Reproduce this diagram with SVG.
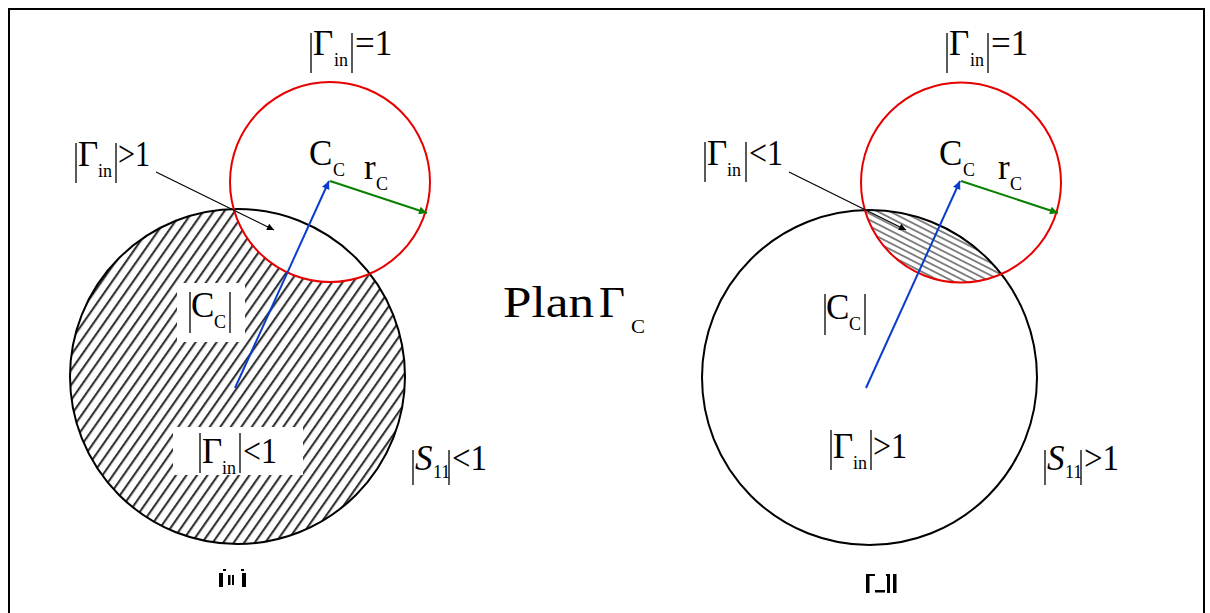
<svg xmlns="http://www.w3.org/2000/svg" width="1210" height="613" viewBox="0 0 1210 613">
<style>
.t{font-family:"Liberation Serif","Times New Roman",serif;fill:#000}
.big{font-size:35px}
.sub{font-size:18px}
.it{font-style:italic}
.bar{stroke:#000;stroke-width:1.3}
.cb{fill:none;stroke:#000;stroke-width:2}
.cr{fill:none;stroke:#e60000;stroke-width:2}
.ptr{stroke:#000;stroke-width:1.2;fill:none}
.blue{stroke:#0a3ccf;stroke-width:2;fill:none}
.green{stroke:#0a8000;stroke-width:2;fill:none}
</style>
<defs>
<pattern id="hatchL" patternUnits="userSpaceOnUse" width="40" height="8.6" patternTransform="rotate(-55)">
<line x1="0" y1="4" x2="40" y2="4" stroke="#333" stroke-width="2.1"/>
</pattern>
<pattern id="hatchR" patternUnits="userSpaceOnUse" width="40" height="5.6" patternTransform="rotate(27)">
<line x1="0" y1="2.8" x2="40" y2="2.8" stroke="#000" stroke-width="1.1"/>
</pattern>
<mask id="mL" maskUnits="userSpaceOnUse" x="0" y="0" width="1210" height="613">
<circle cx="237.5" cy="376.5" r="167.5" fill="#fff"/>
<circle cx="330" cy="182" r="100" fill="#000"/>
</mask>
<clipPath id="cR1"><circle cx="869.5" cy="377.5" r="167.5"/></clipPath>
<clipPath id="cR2"><circle cx="961" cy="182.5" r="100"/></clipPath>
<marker id="aBlue" viewBox="0 0 10 10" refX="10" refY="5" markerWidth="13" markerHeight="8" markerUnits="userSpaceOnUse" orient="auto"><path d="M0,0 L10,5 L0,10 z" fill="#0a3ccf"/></marker>
<marker id="aGreen" viewBox="0 0 10 10" refX="10" refY="5" markerWidth="15" markerHeight="8" markerUnits="userSpaceOnUse" orient="auto"><path d="M0,0 L10,5 L0,10 z" fill="#0a8000"/></marker>
<marker id="aBlack" viewBox="0 0 10 10" refX="10" refY="5" markerWidth="12" markerHeight="7" markerUnits="userSpaceOnUse" orient="auto"><path d="M0,0 L10,5 L0,10 z" fill="#000"/></marker>
</defs>

<rect x="0" y="0" width="1210" height="613" fill="#fff"/>
<rect id="frame" x="9" y="9" width="1195" height="640" fill="none" stroke="#000" stroke-width="2"/>

<!-- Left figure -->
<g id="left-hatch">
<rect x="60" y="200" width="360" height="360" fill="url(#hatchL)" mask="url(#mL)"/>
<rect x="177" y="283" width="68" height="59" fill="#fff"/>
<rect x="173" y="427" width="130" height="48" fill="#fff"/>
</g>
<g id="left-S-circle"><circle class="cb" cx="237.5" cy="376.5" r="167.5"/></g>
<g id="left-G-circle"><circle class="cr" cx="330" cy="182" r="100"/></g>

<!-- Right figure -->
<g id="right-hatch" clip-path="url(#cR1)">
<rect x="850" y="190" width="220" height="110" fill="url(#hatchR)" clip-path="url(#cR2)"/>
</g>
<g id="right-S-circle"><circle class="cb" cx="869.5" cy="377.5" r="167.5"/></g>
<g id="right-G-circle"><circle class="cr" cx="961" cy="182.5" r="100"/></g>

<g id="connectors">
<line class="blue" x1="235" y1="388" x2="329" y2="181" marker-end="url(#aBlue)"/>
<line class="green" x1="330" y1="181" x2="427" y2="213" marker-end="url(#aGreen)"/>
<line class="ptr" x1="156" y1="172" x2="274" y2="230" marker-end="url(#aBlack)"/>
<line class="blue" x1="866" y1="388" x2="960" y2="181" marker-end="url(#aBlue)"/>
<line class="green" x1="961" y1="181" x2="1058" y2="213" marker-end="url(#aGreen)"/>
<line class="ptr" x1="789" y1="172" x2="906" y2="230" marker-end="url(#aBlack)"/>
</g>

<!-- Labels left -->
<g id="lbl-left-Gin-eq1">
<line class="bar" x1="311" y1="33" x2="311" y2="73"/>
<text class="t big" x="313" y="55">Γ</text>
<text class="t sub" x="334" y="66">in</text>
<line class="bar" x1="352" y1="33" x2="352" y2="73"/>
<text class="t big" x="355" y="55">=1</text>
</g>
<g id="lbl-left-Gin-gt1">
<line class="bar" x1="76" y1="143" x2="76" y2="183"/>
<text class="t big" x="78" y="166">Γ</text>
<text class="t sub" x="98" y="177">in</text>
<line class="bar" x1="116" y1="143" x2="116" y2="183"/>
<text class="t big" x="118" y="166" textLength="32" lengthAdjust="spacingAndGlyphs">&gt;1</text>
</g>
<g id="lbl-left-Cc">
<text class="t big" x="309" y="165">C</text>
<text class="t sub" x="333" y="176">C</text>
</g>
<g id="lbl-left-rc">
<text class="t big" x="364" y="179">r</text>
<text class="t sub" x="376" y="190">C</text>
</g>
<g id="lbl-left-absCc">
<line class="bar" x1="190" y1="292" x2="190" y2="333"/>
<text class="t big" x="191" y="317">C</text>
<text class="t sub" x="214" y="328">C</text>
<line class="bar" x1="230" y1="292" x2="230" y2="333"/>
</g>
<g id="lbl-left-Gin-lt1">
<line class="bar" x1="200" y1="433" x2="200" y2="473"/>
<text class="t big" x="202" y="463">Γ</text>
<text class="t sub" x="222" y="474">in</text>
<line class="bar" x1="240" y1="433" x2="240" y2="473"/>
<text class="t big" x="243" y="463" textLength="34" lengthAdjust="spacingAndGlyphs">&lt;1</text>
</g>
<g id="lbl-left-S11">
<line class="bar" x1="413" y1="450" x2="413" y2="485"/>
<text class="t big it" x="415" y="470">S</text>
<text class="t sub" x="433" y="478">11</text>
<line class="bar" x1="449" y1="450" x2="449" y2="485"/>
<text class="t big" x="452" y="470" textLength="35" lengthAdjust="spacingAndGlyphs">&lt;1</text>
</g>
<g id="mark-a" fill="#000">
<rect x="219" y="573" width="4" height="14"/>
<rect x="223" y="569" width="3" height="2"/>
<rect x="228" y="575" width="2.5" height="10"/>
<rect x="232" y="575" width="2" height="10"/>
<rect x="241" y="569" width="3" height="2"/>
<rect x="242" y="573" width="4" height="14"/>
</g>

<!-- Center title -->
<g id="title">
<text class="t" font-size="44" x="503" y="317" textLength="91" lengthAdjust="spacingAndGlyphs">Plan</text>
<text class="t" font-size="44" x="599" y="317" textLength="26" lengthAdjust="spacingAndGlyphs">Γ</text>
<text class="t" font-size="19" x="631" y="333" textLength="14" lengthAdjust="spacingAndGlyphs">C</text>
</g>

<!-- Labels right -->
<g id="lbl-right-Gin-eq1">
<line class="bar" x1="947" y1="33" x2="947" y2="73"/>
<text class="t big" x="949" y="55">Γ</text>
<text class="t sub" x="970" y="66">in</text>
<line class="bar" x1="988" y1="33" x2="988" y2="73"/>
<text class="t big" x="991" y="55">=1</text>
</g>
<g id="lbl-right-Gin-lt1">
<line class="bar" x1="705" y1="142" x2="705" y2="182"/>
<text class="t big" x="707" y="165">Γ</text>
<text class="t sub" x="727" y="176">in</text>
<line class="bar" x1="746" y1="142" x2="746" y2="182"/>
<text class="t big" x="749" y="165" textLength="34" lengthAdjust="spacingAndGlyphs">&lt;1</text>
</g>
<g id="lbl-right-Cc">
<text class="t big" x="939" y="165">C</text>
<text class="t sub" x="963" y="176">C</text>
</g>
<g id="lbl-right-rc">
<text class="t big" x="998" y="179">r</text>
<text class="t sub" x="1010" y="190">C</text>
</g>
<g id="lbl-right-absCc">
<line class="bar" x1="825" y1="294" x2="825" y2="335"/>
<text class="t big" x="826" y="319">C</text>
<text class="t sub" x="849" y="330">C</text>
<line class="bar" x1="865" y1="294" x2="865" y2="335"/>
</g>
<g id="lbl-right-Gin-gt1">
<line class="bar" x1="831" y1="430" x2="831" y2="470"/>
<text class="t big" x="833" y="458">Γ</text>
<text class="t sub" x="853" y="469">in</text>
<line class="bar" x1="871" y1="430" x2="871" y2="470"/>
<text class="t big" x="873" y="458" textLength="34" lengthAdjust="spacingAndGlyphs">&gt;1</text>
</g>
<g id="lbl-right-S11">
<line class="bar" x1="1045" y1="450" x2="1045" y2="485"/>
<text class="t big it" x="1047" y="470">S</text>
<text class="t sub" x="1065" y="478">11</text>
<line class="bar" x1="1081" y1="450" x2="1081" y2="485"/>
<text class="t big" x="1084" y="470" textLength="35" lengthAdjust="spacingAndGlyphs">&gt;1</text>
</g>
<g id="mark-b" fill="#000">
<rect x="866" y="574" width="3.5" height="19"/>
<rect x="869" y="574" width="6" height="2"/>
<rect x="875" y="590" width="10" height="2.5"/>
<rect x="886" y="574" width="4" height="2"/>
<rect x="887" y="576" width="3" height="17"/>
<rect x="893" y="574" width="3.5" height="19"/>
</g>
</svg>
